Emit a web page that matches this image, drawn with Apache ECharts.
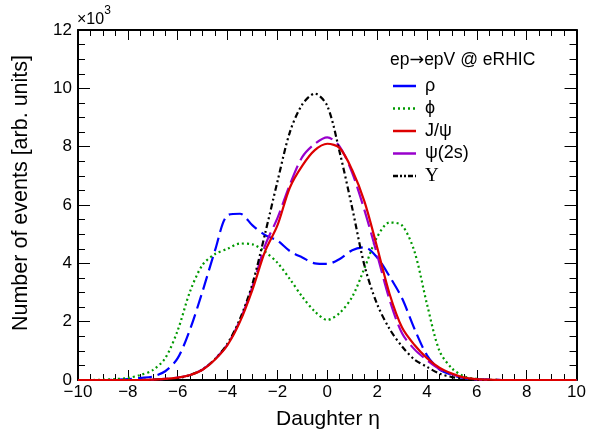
<!DOCTYPE html>
<html>
<head>
<meta charset="utf-8">
<script src="https://cdn.jsdelivr.net/npm/echarts@6/dist/echarts.min.js"></script>
<style>html,body{margin:0;padding:0;background:#fff}#c{width:589px;height:434px}</style>
</head>
<body>
<div id="c"></div>
<script>
// Daughter eta bins
var eta = [-10,-9.5,-9,-8.5,-8,-7.5,-7,-6.5,-6,-5.5,-5,-4.5,-4,-3.5,-3,-2.5,-2,-1.5,-1,-0.5,0,0.5,1,1.5,2,2.5,3,3.5,4,4.5,5,5.5,6,6.5,7,7.5,8,8.5,9,9.5,10];
// values in units of 10^3
var rho  = [0,0,0,0.01,0.03,0.07,0.12,0.3,0.75,1.75,3.05,4.45,5.65,5.7,5.3,4.97,4.78,4.42,4.2,4.0,3.98,4.15,4.45,4.55,4.2,3.55,2.8,1.75,0.85,0.36,0.17,0.06,0.02,0.01,0,0,0,0,0,0,0];
var phi  = [0,0,0.01,0.03,0.07,0.17,0.34,0.75,1.7,3.05,3.95,4.32,4.5,4.68,4.65,4.4,4.02,3.46,2.85,2.35,2.06,2.3,2.85,3.85,4.9,5.4,5.3,4.4,2.6,1.0,0.4,0.12,0.04,0.01,0,0,0,0,0,0,0];
var jpsi = [0,0,0,0,0,0,0.01,0.04,0.08,0.17,0.35,0.7,1.2,2.0,3.1,4.4,5.3,6.6,7.35,7.88,8.1,7.95,7.2,6.1,4.55,2.95,1.8,1.2,0.75,0.42,0.22,0.08,0.03,0.01,0,0,0,0,0,0,0];
var psi2s= [0,0,0,0,0,0,0.01,0.04,0.08,0.17,0.36,0.72,1.22,2.05,3.2,4.6,5.55,6.7,7.65,8.1,8.32,8.0,7.1,5.8,4.3,2.75,1.6,1.05,0.68,0.38,0.2,0.07,0.02,0.01,0,0,0,0,0,0,0];
var ups  = [0,0,0,0,0,0,0.01,0.02,0.06,0.17,0.36,0.72,1.25,2.1,3.3,5.0,6.8,8.5,9.45,9.82,9.4,7.8,5.9,3.9,2.6,1.75,1.15,0.7,0.45,0.22,0.1,0.04,0.01,0,0,0,0,0,0,0,0];
var names = ['ρ','ϕ','J/ψ','ψ(2s)','Υ'];
var xTicks = [-10,-8,-6,-4,-2,0,2,4,6,8,10];
var yTicks = [0,2,4,6,8,10,12];

function pairs(v){ return eta.map(function(e,i){ return [e, v[i]]; }); }
var FONT = 'Liberation Sans, Arial, Helvetica, sans-serif';

var styles = [
  {color:'#0000ff', type:[14,6]},
  {color:'#009900', type:[2,3]},
  {color:'#dd0000', type:'solid'},
  {color:'#9900cc', type:[18,6]},
  {color:'#000000', type:[6,3,2,3,2,3]}
];
var vals = [rho, phi, jpsi, psi2s, ups];

var series = names.map(function(n, k){
  return {
    name: n, type: 'line', data: pairs(vals[k]), smooth: 0.3, showSymbol: false, symbol: 'none',
    lineStyle: {color: styles[k].color, width: 2.2, type: styles[k].type},
    itemStyle: {color: styles[k].color},
    z: k === 2 ? 5 : 3
  };
});

var axisCommonX = {
  type: 'value', min: -10, max: 10, interval: 2,
  axisLine: {show: true, onZero: false, lineStyle: {color: '#000', width: 2}},
  axisTick: {show: true, inside: true, length: 10, lineStyle: {color: '#000', width: 1}},
  minorTick: {show: true, splitNumber: 4, length: 6, lineStyle: {color: '#000', width: 1}},
  splitLine: {show: false}
};
var axisCommonY = {
  type: 'value', min: 0, max: 12, interval: 2,
  axisLine: {show: true, onZero: false, lineStyle: {color: '#000', width: 2}},
  axisTick: {show: true, inside: true, length: 12, lineStyle: {color: '#000', width: 1}},
  minorTick: {show: true, splitNumber: 4, length: 7, lineStyle: {color: '#000', width: 1}},
  splitLine: {show: false}
};

// manual legend (line samples + labels)
var legendGraphics = [
  {type: 'text', left: 390, top: 51, style: {
    text: '{t|ep}{r|\u2192}{t|epV @ eRHIC}',
    rich: {t: {font: '17.5px ' + FONT, fill: '#000'}, r: {font: '17.5px DejaVu Sans', fill: '#000'}}}}
];
names.forEach(function(n, k){
  var y = 86 + 22.5 * k;
  legendGraphics.push({type: 'line', shape: {x1: 393, y1: y, x2: 416, y2: y},
    style: {stroke: styles[k].color, lineWidth: 2.5, lineDash: styles[k].type === 'solid' ? null : (k===1?[2,3]:(k===4?[5,2,2,2,2,2]:[23,0]))}});
  legendGraphics.push({type: 'text', x: 425, y: y, style: {text: n,
    font: (k === 4 ? '19px Liberation Serif, serif' : '18px ' + FONT), fill: '#000', verticalAlign: 'middle', align: 'left'}});
});

var chart = echarts.init(document.getElementById('c'), null, {renderer: 'canvas'});
chart.setOption({
  animation: false,
  backgroundColor: '#fff',
  textStyle: {fontFamily: FONT},
  grid: {left: 78, right: 11, top: 30, bottom: 54, containLabel: false},
  xAxis: [
    Object.assign({}, axisCommonX, {position: 'bottom',
      axisLabel: {show: true, color: '#000', fontSize: 17, fontFamily: FONT, margin: 4,
        formatter: function(v){ return xTicks.indexOf(v) >= 0 ? String(v).replace('-', '\u2212') : ''; }}}),
    Object.assign({}, axisCommonX, {position: 'top', axisLabel: {show: false}})
  ],
  yAxis: [
    Object.assign({}, axisCommonY, {position: 'left',
      axisLabel: {show: true, color: '#000', fontSize: 17, fontFamily: FONT, margin: 6,
        formatter: function(v){ return yTicks.indexOf(v) >= 0 ? String(v) : ''; }}}),
    Object.assign({}, axisCommonY, {position: 'right', axisLabel: {show: false}})
  ],
  graphic: legendGraphics.concat([
    {type: 'text', left: 77, top: 5, style: {
      text: '{a|\u00d710}{b|3}', rich: {a: {font: '16px ' + FONT, fill: '#000', padding: [7,0,0,0]}, b: {font: '12px ' + FONT, fill: '#000', verticalAlign: 'top'}}}},
    {type: 'text', x: 21, y: 193, rotation: Math.PI / 2, style: {
      text: 'Number of events [arb. units]', font: '21.5px ' + FONT, fill: '#000', align: 'center', verticalAlign: 'middle'}},
    {type: 'text', x: 328, y: 419, style: {text: 'Daughter \u03b7', font: '21px ' + FONT, fill: '#000', align: 'center', verticalAlign: 'middle'}}
  ]),
  series: series
});
</script>
</body>
</html>
